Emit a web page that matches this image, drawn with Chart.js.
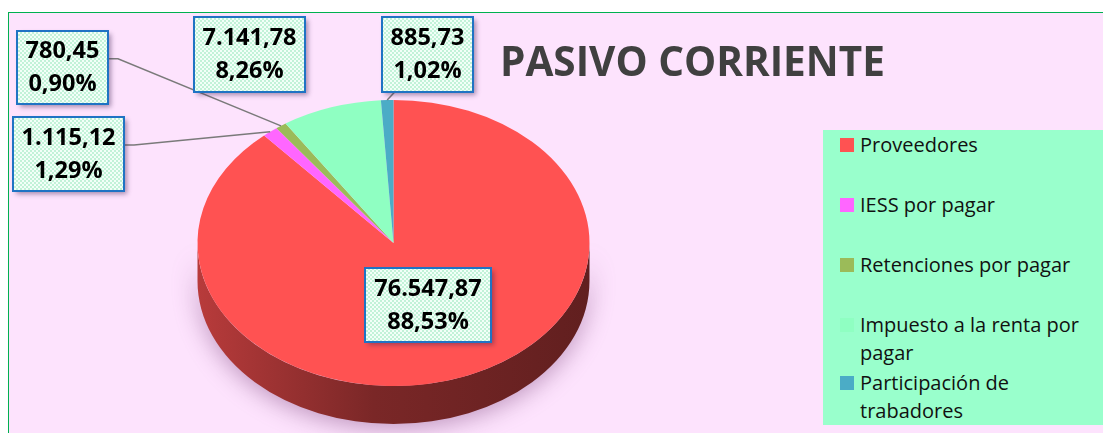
<!DOCTYPE html>
<html lang="es">
<head>
<meta charset="UTF-8">
<title>Pasivo corriente</title>
<style>
    body {
        margin: 0;
        background: #ffffff;
        font-family: "Open Sans", sans-serif;
        overflow: hidden;
    }
    .frame {
        position: absolute;
        left: 8px;
        top: 12px;
        width: 1110px;
        height: 440px;
        background: #fde3fd;
        border: 1.5px solid #00b050;
    }
    #chart {
        position: absolute;
        left: 0;
        top: 0;
    }
    .title {
        position: absolute;
        left: 500px;
        top: 34px;
        line-height: 54px;
        font-size: 40.5px;
        font-weight: bold;
        color: #404040;
        white-space: nowrap;
    }
    .legend {
        position: absolute;
        left: 823px;
        top: 130px;
        width: 290px;
        height: 295px;
        background: #99ffcc;
    }
    .legend .item {
        position: absolute;
        left: 37px;
        width: 240px;
        font-size: 20px;
        line-height: 28px;
        color: #111;
    }
    .legend .sw {
        position: absolute;
        left: 17px;
        width: 14px;
        height: 14px;
    }
</style>
</head>
<body>
<div class="frame"></div>
<canvas id="chart" width="1103" height="433"></canvas>
<div class="title">PASIVO CORRIENTE</div>
<div class="legend" id="legend"></div>

<script src="https://cdn.jsdelivr.net/npm/chart.js"></script>
<script>
    // data
    const categories = ['Proveedores', 'IESS por pagar', 'Retenciones por pagar', 'Impuesto a la renta por pagar', 'Participación de trabadores'];
    const values = [76547.87, 1115.12, 780.45, 7141.78, 885.73];
    const percents = [88.53, 1.29, 0.90, 8.26, 1.02];
    const colors = ['#ff5252', '#ff66ff', '#9bbb59', '#8fffc2', '#4bacc6'];

    // where Excel placed the data label boxes (layout only)
    const labelBoxes = [
        {x: 365, y: 268, w: 126, h: 74},
        {x: 13, y: 117, w: 111, h: 74, line: 'right'},
        {x: 17, y: 31, w: 91, h: 73, line: 'right'},
        {x: 194, y: 17, w: 111, h: 75},
        {x: 382, y: 17, w: 91, h: 75, line: 'bottom'}
    ];

    const VY = 243;     // visual centre of the tilted pie
    const K = 0.73;     // vertical squash
    const DEPTH = 38;   // thickness of the pie

    function fmtNum(v) {
        let parts = v.toFixed(2).split('.');
        parts[0] = parts[0].replace(/\B(?=(\d{3})+(?!\d))/g, '.');
        return parts[0] + ',' + parts[1];
    }
    function fmtPct(p) {
        return p.toFixed(2).replace('.', ',') + '%';
    }
    function shade(hex, f) {
        let n = parseInt(hex.slice(1), 16);
        let r = Math.round(((n >> 16) & 255) * f);
        let g = Math.round(((n >> 8) & 255) * f);
        let b = Math.round((n & 255) * f);
        return `rgb(${r},${g},${b})`;
    }

    // html legend
    const legendTops = [1, 61, 121, 181, 239];
    let legend = document.getElementById('legend');
    categories.forEach((c, i) => {
        let sw = document.createElement('div');
        sw.className = 'sw';
        sw.style.top = (legendTops[i] + 7) + 'px';
        sw.style.background = colors[i];
        legend.appendChild(sw);
        let it = document.createElement('div');
        it.className = 'item';
        it.style.top = legendTops[i] + 'px';
        it.textContent = c;
        legend.appendChild(it);
    });

    // checkered fill for the label boxes
    let pc = document.createElement('canvas');
    pc.width = 4; pc.height = 4;
    let pctx = pc.getContext('2d');
    pctx.fillStyle = '#f2fff8';
    pctx.fillRect(0, 0, 4, 4);
    pctx.fillStyle = '#c2f2d8';
    pctx.fillRect(0, 0, 2, 2);
    pctx.fillRect(2, 2, 2, 2);

    const tilt = {
        id: 'tilt',
        beforeDatasetsDraw(chart) {
            const ctx = chart.ctx;
            const meta = chart.getDatasetMeta(0);
            const a0 = meta.data[0];
            const cx = a0.x, cy = a0.y, r = a0.outerRadius;

            // side wall of the front half
            ctx.save();
            ctx.shadowColor = 'rgba(110,50,110,0.45)';
            ctx.shadowBlur = 24;
            ctx.shadowOffsetY = 4;
            meta.data.forEach((a, i) => {
                [-2 * Math.PI, 0, 2 * Math.PI].forEach(off => {
                    let lo = Math.max(a.startAngle, off);
                    let hi = Math.min(a.endAngle, off + Math.PI);
                    if (hi <= lo) return;
                    let g = ctx.createLinearGradient(cx - r, 0, cx + r, 0);
                    g.addColorStop(0, shade(colors[i], 0.72));
                    g.addColorStop(0.45, shade(colors[i], 0.48));
                    g.addColorStop(1, shade(colors[i], 0.38));
                    ctx.fillStyle = g;
                    ctx.beginPath();
                    ctx.ellipse(cx, VY, r, r * K, 0, lo, hi, false);
                    ctx.ellipse(cx, VY + DEPTH, r, r * K, 0, hi, lo, true);
                    ctx.closePath();
                    ctx.fill();
                });
            });
            ctx.restore();

            // squash the top face
            ctx.save();
            ctx.translate(cx, VY);
            ctx.scale(1, K);
            ctx.translate(-cx, -cy);
        },
        afterDatasetsDraw(chart) {
            chart.ctx.restore();
        },
        afterDraw(chart) {
            const ctx = chart.ctx;
            const meta = chart.getDatasetMeta(0);
            const pattern = ctx.createPattern(pc, 'repeat');
            meta.data.forEach((a, i) => {
                const b = labelBoxes[i];
                const mid = (a.startAngle + a.endAngle) / 2;
                const px = a.x + a.outerRadius * Math.cos(mid);
                const py = VY + K * a.outerRadius * Math.sin(mid);

                ctx.save();
                if (b.line) {
                    ctx.strokeStyle = '#7a7a7a';
                    ctx.lineWidth = 1.5;
                    ctx.beginPath();
                    if (b.line === 'right') {
                        let sy = b.y + b.h * 0.38;
                        ctx.moveTo(b.x + b.w, sy);
                        ctx.lineTo(b.x + b.w + 10, sy);
                    } else {
                        ctx.moveTo(b.x + b.w * 0.14, b.y + b.h);
                    }
                    ctx.lineTo(px, py);
                    ctx.stroke();
                }

                ctx.shadowColor = 'rgba(60,30,80,0.45)';
                ctx.shadowBlur = 5;
                ctx.shadowOffsetX = 3;
                ctx.shadowOffsetY = 3;
                ctx.fillStyle = pattern;
                ctx.fillRect(b.x, b.y, b.w, b.h);
                ctx.shadowColor = 'transparent';
                ctx.strokeStyle = '#1f73c4';
                ctx.lineWidth = 2;
                ctx.strokeRect(b.x, b.y, b.w, b.h);

                ctx.fillStyle = '#000';
                ctx.font = 'bold 23.5px "Open Sans"';
                ctx.textAlign = 'center';
                ctx.textBaseline = 'middle';
                let tx = b.x + b.w / 2, ty = b.y + b.h / 2;
                ctx.fillText(fmtNum(values[i]), tx, ty - 16);
                ctx.fillText(fmtPct(percents[i]), tx, ty + 17);
                ctx.restore();
            });
        }
    };

    new Chart(document.getElementById('chart'), {
        type: 'pie',
        data: {
            labels: categories,
            datasets: [{
                data: values,
                backgroundColor: colors,
                borderWidth: 0,
                clip: false
            }]
        },
        options: {
            responsive: false,
            animation: false,
            events: [],
            layout: {
                padding: {left: 197, right: 513, top: 20, bottom: 21}
            },
            plugins: {
                legend: {display: false},
                tooltip: {enabled: false}
            }
        },
        plugins: [tilt]
    });
</script>
</body>
</html>
